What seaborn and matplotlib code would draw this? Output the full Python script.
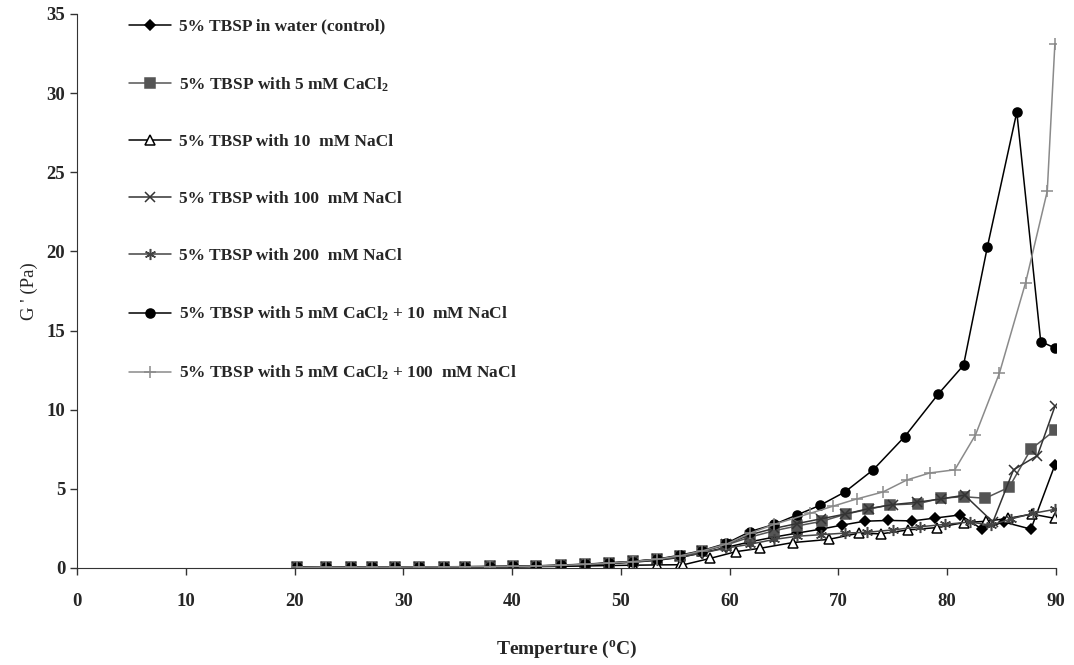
import pandas as pd
import seaborn as sns
from matplotlib import pyplot as plt

# shared temperature ramp (deg C) for the low-temperature part of every run
ramp_t = [20.2, 22.9, 25.2, 27.1, 29.2, 31.4, 33.7, 35.7, 38.0, 40.1,
          42.2, 44.5, 46.7, 48.9, 51.1, 53.3, 55.4, 57.5, 59.7]

# 5% TBSP in water (control)
t_control = ramp_t + [61.9, 64.1, 66.2, 68.4, 70.3, 72.4, 74.6, 76.8, 78.9,
                      81.2, 83.2, 85.2, 87.7, 89.9]
g_control = [0.03, 0.02, 0.04, 0.03, 0.05, 0.04, 0.06, 0.05, 0.07, 0.08,
             0.10, 0.14, 0.20, 0.27, 0.36, 0.48, 0.66, 0.95, 1.30,
             1.65, 1.95, 2.20, 2.45, 2.70, 2.95, 3.00, 2.97, 3.15,
             3.35, 2.45, 2.90, 2.45, 6.50]

# 5 mM CaCl2
t_cacl2 = ramp_t + [61.9, 64.1, 66.2, 68.5, 70.7, 72.7, 74.7, 77.3, 79.4,
                    81.5, 83.5, 85.7, 87.7, 89.9]
g_cacl2 = [0.05, 0.03, 0.05, 0.06, 0.05, 0.07, 0.06, 0.08, 0.10, 0.10,
           0.13, 0.18, 0.24, 0.32, 0.42, 0.55, 0.75, 1.05, 1.45,
           1.95, 2.35, 2.65, 2.95, 3.40, 3.70, 3.98, 4.05, 4.40,
           4.50, 4.40, 5.10, 7.50, 8.70]

# 10 mM NaCl
t_nacl10 = ramp_t[:17] + [55.7, 58.2, 60.6, 62.8, 65.8, 69.1, 71.9, 73.9,
                          76.4, 79.1, 81.5, 83.6, 85.6, 87.8, 89.9]
g_nacl10 = [0.00, 0.01, 0.02, 0.02, 0.03, 0.03, 0.03, 0.04, 0.05, 0.06,
            0.08, 0.10, 0.12, 0.15, 0.17, 0.19, 0.20,
            0.19, 0.60, 1.03, 1.24, 1.60, 1.80, 2.20, 2.15,
            2.40, 2.55, 2.86, 2.95, 3.13, 3.40, 3.13]

# 100 mM NaCl
t_nacl100 = ramp_t + [61.9, 64.1, 66.2, 68.4, 70.6, 72.8, 75.0, 77.2, 79.4,
                      81.6, 84.2, 86.1, 88.3, 89.9]
g_nacl100 = [0.04, 0.03, 0.05, 0.05, 0.06, 0.06, 0.07, 0.08, 0.09, 0.10,
             0.13, 0.17, 0.23, 0.31, 0.41, 0.54, 0.74, 1.05, 1.50,
             2.10, 2.50, 2.80, 3.10, 3.40, 3.75, 4.00, 4.15, 4.35,
             4.60, 2.90, 6.20, 7.10, 10.20]

# 200 mM NaCl
t_nacl200 = ramp_t + [61.9, 64.1, 66.2, 68.4, 70.6, 72.6, 75.0, 77.5, 79.8,
                      82.1, 84.0, 85.9, 87.9, 89.9]
g_nacl200 = [0.02, 0.03, 0.03, 0.04, 0.04, 0.05, 0.05, 0.06, 0.07, 0.08,
             0.11, 0.15, 0.21, 0.29, 0.38, 0.50, 0.68, 0.95, 1.25,
             1.50, 1.80, 2.00, 2.10, 2.20, 2.25, 2.40, 2.60, 2.75,
             2.90, 2.70, 3.10, 3.45, 3.70]

# 5 mM CaCl2 + 10 mM NaCl
t_mix10 = ramp_t + [61.9, 64.1, 66.2, 68.3, 70.6, 73.2, 76.1, 79.2, 81.5,
                    83.7, 86.4, 88.6, 89.9]
g_mix10 = [0.04, 0.03, 0.05, 0.04, 0.06, 0.05, 0.07, 0.06, 0.08, 0.10,
           0.12, 0.16, 0.22, 0.30, 0.40, 0.55, 0.80, 1.10, 1.55,
           2.30, 2.75, 3.35, 3.95, 4.80, 6.20, 8.30, 11.00, 12.80,
           20.30, 28.80, 14.30, 13.90]

# 5 mM CaCl2 + 100 mM NaCl
t_mix100 = ramp_t + [61.9, 64.1, 67.4, 69.5, 71.7, 74.1, 76.3, 78.4, 80.7,
                     82.6, 84.8, 87.2, 89.2, 89.9]
g_mix100 = [0.03, 0.04, 0.04, 0.05, 0.05, 0.06, 0.06, 0.07, 0.08, 0.09,
            0.12, 0.16, 0.22, 0.30, 0.40, 0.54, 0.76, 1.08, 1.50,
            2.20, 2.75, 3.45, 3.90, 4.36, 4.80, 5.56, 6.00, 6.20,
            8.40, 12.30, 18.00, 23.80, 33.10]

labels = [
    "5% TBSP in water (control)",
    "5% TBSP with 5 mM CaCl$_2$",
    "5% TBSP with 10  mM NaCl",
    "5% TBSP with 100  mM NaCl",
    "5% TBSP with 200  mM NaCl",
    "5% TBSP with 5 mM CaCl$_2$ + 10  mM NaCl",
    "5% TBSP with 5 mM CaCl$_2$ + 100  mM NaCl",
]
temps = [t_control, t_cacl2, t_nacl10, t_nacl100, t_nacl200, t_mix10, t_mix100]
values = [g_control, g_cacl2, g_nacl10, g_nacl100, g_nacl200, g_mix10, g_mix100]

styles = [
    dict(color="black", marker="D", markersize=5, markerfacecolor="black", markeredgecolor="black"),
    dict(color="#555555", marker="s", markersize=6.5, markerfacecolor="#555555", markeredgecolor="#555555"),
    dict(color="black", marker="^", markersize=6.5, markerfacecolor="white", markeredgecolor="black"),
    dict(color="#333333", marker="x", markersize=7, markeredgecolor="#333333"),
    dict(color="#444444", marker=(6, 2, 0), markersize=8, markeredgecolor="#444444"),
    dict(color="black", marker="o", markersize=6.5, markerfacecolor="black", markeredgecolor="black"),
    dict(color="#8a8a8a", marker="+", markersize=9, markeredgecolor="#8a8a8a"),
]

sns.set_style("ticks")
plt.rcParams["font.family"] = ["Liberation Serif", "DejaVu Serif"]
plt.rcParams["mathtext.fontset"] = "custom"
plt.rcParams["mathtext.rm"] = "Liberation Serif:bold"
plt.rcParams["mathtext.default"] = "rm"

fig = plt.figure(figsize=(10.74, 6.65), dpi=100)
ax = fig.add_axes([0.0717, 0.146, 0.9115, 0.833])

for lab, t, g, st in zip(labels, temps, values, styles):
    df = pd.DataFrame({"T": t, "G": g})
    sns.lineplot(data=df, x="T", y="G", ax=ax, label=lab, estimator=None,
                 linewidth=1.1, markeredgewidth=1.1, **st)

ax.set_xlim(0, 90)
ax.set_ylim(0, 35)
ax.set_xticks(range(0, 91, 10))
ax.set_yticks(range(0, 36, 5))
ax.tick_params(axis="both", labelsize=13.5, length=5, width=1, color="#333333")
ax.tick_params(axis="x", pad=13)
for lbl in ax.get_xticklabels() + ax.get_yticklabels():
    lbl.set_fontweight("bold")
for s in ["top", "right"]:
    ax.spines[s].set_visible(False)
for s in ["left", "bottom"]:
    ax.spines[s].set_color("#333333")

ax.set_xlabel("Temperture ($^{\\mathrm{o}}$C)", fontsize=14, fontweight="bold", labelpad=21)
ax.set_ylabel("G ' (Pa)", fontsize=13.5, labelpad=6)

ax.legend(loc="upper left", bbox_to_anchor=(0.037, 1.02), frameon=False,
          prop={"family": "Liberation Serif", "weight": "bold", "size": 12.5},
          labelspacing=2.34, handlelength=2.4, handletextpad=0.5)

fig.savefig("out.png", dpi=100, facecolor="white")
